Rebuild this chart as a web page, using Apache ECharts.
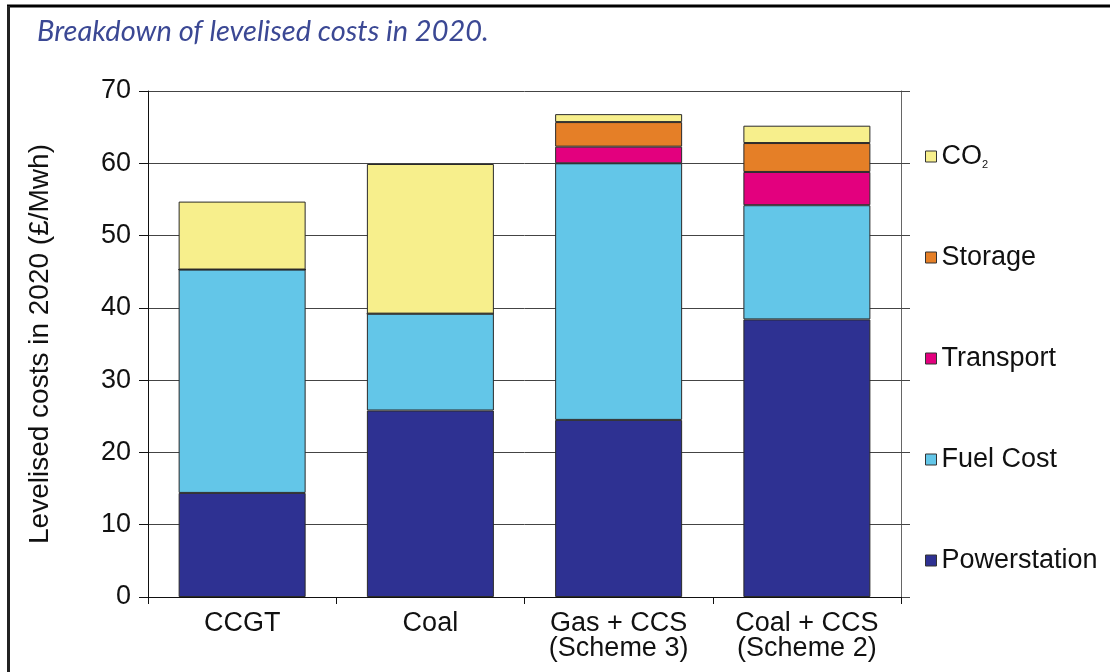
<!DOCTYPE html>
<html>
<head>
<meta charset="utf-8">
<script src="https://cdn.jsdelivr.net/npm/echarts@6/dist/echarts.min.js"></script>
<style>
html,body{margin:0;padding:0;background:#fff;}
#chart{position:absolute;left:0;top:0;width:1110px;height:672px;}
</style>
</head>
<body>
<div id="chart"></div>
<script>
const categories = ['CCGT', 'Coal', 'Gas + CCS\n(Scheme 3)', 'Coal + CCS\n(Scheme 2)'];
const powerstation = [14.4, 25.8, 24.5, 38.4];
const fuelCost = [30.9, 13.4, 35.5, 15.8];
const transport = [0, 0, 2.3, 4.6];
const storage = [0, 0, 3.4, 4.0];
const co2 = [9.4, 20.7, 1.1, 2.4];
const yTicks = {min: 0, max: 70, interval: 10};

const chart = echarts.init(document.getElementById('chart'));
const border = {borderColor: '#2a2a2a', borderWidth: 1};
function s(name, data, color) {
  return {name: name, type: 'bar', stack: 'total', data: data, barWidth: 127,
    itemStyle: Object.assign({color: color}, border)};
}
const F = 'Liberation Sans';
chart.setOption({
  animation: false,
  backgroundColor: '#fff',
  title: {
    text: 'Breakdown of levelised costs in 2020.',
    left: 32, top: 12,
    textStyle: {fontFamily: 'Lato', fontStyle: 'italic', fontWeight: 'normal', fontSize: 29, color: '#3b4894'}
  },
  graphic: [
    {type: 'line', shape: {x1: 7, y1: 6, x2: 1110, y2: 6}, style: {stroke: '#000', lineWidth: 3}},
    {type: 'line', shape: {x1: 8.5, y1: 6, x2: 8.5, y2: 672}, style: {stroke: '#222', lineWidth: 3}}
  ],
  grid: {left: 148, right: 209, top: 91, bottom: 75},
  legend: {
    orient: 'vertical', left: 920, top: 138, itemGap: 74,
    itemWidth: 11, itemHeight: 11, icon: 'rect',
    itemStyle: {borderColor: '#333', borderWidth: 1},
    data: ['CO2', 'Storage', 'Transport', 'Fuel Cost', 'Powerstation'],
    formatter: function (n) { return n === 'CO2' ? 'CO{sub|2}' : n; },
    textStyle: {fontFamily: F, fontSize: 27, color: '#111', lineHeight: 27,
      rich: {sub: {fontSize: 11, verticalAlign: 'bottom', padding: [16, 0, 0, 0], lineHeight: 27, fontFamily: F}}}
  },
  xAxis: {
    type: 'category', data: categories,
    axisLine: {lineStyle: {color: '#111', width: 1}},
    axisTick: {show: true, length: 7, lineStyle: {color: '#111'}},
    axisLabel: {fontFamily: F, fontSize: 27, color: '#111', lineHeight: 25, margin: 14}
  },
  yAxis: [{
    type: 'value', min: yTicks.min, max: yTicks.max, interval: yTicks.interval,
    name: 'Levelised costs in 2020 (£/Mwh)', nameLocation: 'middle', nameGap: 94,
    nameTextStyle: {fontFamily: F, fontSize: 28, color: '#111'},
    axisLine: {show: true, lineStyle: {color: '#111'}},
    axisTick: {show: true, length: 9, lineStyle: {color: '#111'}},
    axisLabel: {fontFamily: F, fontSize: 27, color: '#111', margin: 17},
    splitLine: {show: true, lineStyle: {color: '#444', width: 1}}
  }, {
    type: 'value', position: 'right', min: yTicks.min, max: yTicks.max, interval: yTicks.interval,
    axisLine: {show: true, lineStyle: {color: '#666'}},
    axisTick: {show: true, length: 9, lineStyle: {color: '#444'}},
    axisLabel: {show: false}, splitLine: {show: false}
  }],
  series: [
    s('Powerstation', powerstation, '#2e3192'),
    s('Fuel Cost', fuelCost, '#63c6e8'),
    s('Transport', transport, '#e3007e'),
    s('Storage', storage, '#e57f27'),
    s('CO2', co2, '#f7ef8c')
  ]
});
</script>
</body>
</html>
